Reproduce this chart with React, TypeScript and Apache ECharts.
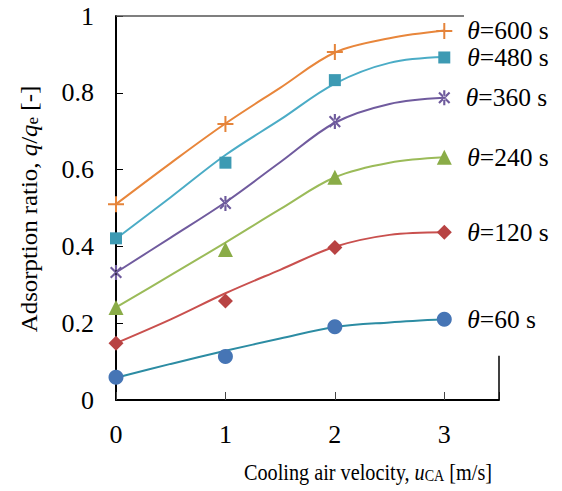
import React, { useEffect, useRef } from 'react';
import * as echarts from 'echarts';

// ---- data ----
const xValues = [0, 1, 2, 3];
const thetaSeconds = [600, 480, 360, 240, 120, 60];

// measured points (markers)
const measured600 = [0.51, 0.719, 0.906, 0.961];
const measured480 = [0.421, 0.618, 0.833, 0.892];
const measured360 = [0.332, 0.512, 0.725, 0.787];
const measured240 = [0.241, 0.392, 0.58, 0.632];
const measured120 = [0.148, 0.258, 0.397, 0.437];
const measured60 = [0.059, 0.113, 0.191, 0.21];

// fitted curves at these velocities
const fitX = [0, 0.5, 1, 1.5, 2, 2.5, 3];
const fit600 = [0.51, 0.617, 0.72, 0.813, 0.905, 0.942, 0.962];
const fit480 = [0.42, 0.528, 0.638, 0.73, 0.824, 0.878, 0.893];
const fit360 = [0.332, 0.423, 0.515, 0.619, 0.722, 0.771, 0.787];
const fit240 = [0.241, 0.325, 0.41, 0.497, 0.58, 0.618, 0.632];
const fit120 = [0.148, 0.21, 0.278, 0.339, 0.399, 0.43, 0.437];
const fit60 = [0.058, 0.094, 0.128, 0.16, 0.19, 0.202, 0.21];

const xTitle = 'Cooling air velocity, ';
const yTitle = 'Adsorption ratio, ';

const FONT = 'Liberation Serif';

const plusPath = 'path://M-1,-8L1,-8L1,-1L8,-1L8,1L1,1L1,8L-1,8L-1,1L-8,1L-8,-1L-1,-1Z';
const starPath =
  'path://M-1,-7L1,-7L1,7L-1,7Z' +
  'M4.243,5.657L5.657,4.243L-4.243,-5.657L-5.657,-4.243Z' +
  'M5.657,-4.243L4.243,-5.657L-5.657,4.243L-4.243,5.657Z';

const seriesDefs = [
  { measured: measured600, fit: fit600, line: '#E8863B', marker: '#E5843A', symbol: plusPath, size: 16 },
  { measured: measured480, fit: fit480, line: '#4BACC6', marker: '#3D9AB3', symbol: 'rect', size: 12 },
  { measured: measured360, fit: fit360, line: '#705B9E', marker: '#6E5A9C', symbol: starPath, size: 15 },
  { measured: measured240, fit: fit240, line: '#9BBB59', marker: '#8AAC47', symbol: 'triangle', size: 15 },
  { measured: measured120, fit: fit120, line: '#C9504E', marker: '#B84343', symbol: 'diamond', size: 15 },
  { measured: measured60, fit: fit60, line: '#2C8CA3', marker: '#4675B5', symbol: 'circle', size: 15 },
];

export default function App() {
  const ref = useRef<HTMLDivElement>(null);

  useEffect(() => {
    if (!ref.current) return;
    const chart = echarts.init(ref.current, null, { renderer: 'svg' });

    const series: any[] = [];
    seriesDefs.forEach((d, k) => {
      series.push({
        type: 'line',
        name: 'fit' + thetaSeconds[k],
        data: fitX.map((x, i) => [x, d.fit[i]]),
        smooth: 0.35,
        showSymbol: false,
        lineStyle: { color: d.line, width: 2 },
        itemStyle: { color: d.line },
        z: 2,
      });
    });
    seriesDefs.forEach((d, k) => {
      const last = xValues.length - 1;
      series.push({
        type: 'scatter',
        name: 'theta' + thetaSeconds[k],
        symbol: d.symbol,
        symbolSize: d.size,
        symbolKeepAspect: true,
        itemStyle: { color: d.marker, opacity: 1 },
        z: 3,
        data: xValues.map((x, i) =>
          i === last
            ? {
                value: [x, d.measured[i]],
                label: {
                  show: true,
                  position: 'right',
                  distance: 23 - d.size / 2,
                  fontFamily: FONT,
                  formatter: `{i|θ}{n|=${thetaSeconds[k]} s}`,
                  rich: {
                    i: { fontFamily: FONT, fontSize: 25.5, fontStyle: 'italic', color: '#000' },
                    n: { fontFamily: FONT, fontSize: 25.5, color: '#000' },
                  },
                },
              }
            : [x, d.measured[i]]
        ),
      });
    });

    chart.setOption({
      animation: false,
      backgroundColor: '#fff',
      textStyle: { fontFamily: FONT },
      grid: { left: 116, right: 63, top: 16, bottom: 91, containLabel: false },
      xAxis: {
        type: 'value',
        min: 0,
        max: 3.5,
        interval: 1,
        axisLine: { show: true, lineStyle: { color: '#000', width: 2 } },
        axisTick: { show: true, inside: true, length: 8, lineStyle: { color: '#444', width: 1 } },
        axisLabel: {
          fontFamily: FONT,
          fontSize: 26,
          color: '#000',
          margin: 21,
          formatter: (v: number) => (Number.isInteger(v) ? String(v) : ''),
        },
        splitLine: { show: false },
      },
      yAxis: {
        type: 'value',
        min: 0,
        max: 1,
        interval: 0.2,
        axisLine: { show: true, lineStyle: { color: '#000', width: 2 } },
        axisTick: { show: true, inside: true, length: 7, lineStyle: { color: '#000', width: 1 } },
        axisLabel: { fontFamily: FONT, fontSize: 26, color: '#000', margin: 22 },
        splitLine: { show: false },
      },
      series,
    });

    const p = (x: number, y: number) => chart.convertToPixel({ gridIndex: 0 }, [x, y]) as number[];
    const tl = p(0, 1);
    const tr = p(3.18, 1);
    const rb = p(3.5, 0);
    const rt = p(3.5, 0.115);

    const titleRich = {
      n: { fontFamily: FONT, fontSize: 23, color: '#000', verticalAlign: 'bottom', lineHeight: 24 },
      i: { fontFamily: FONT, fontSize: 23, fontStyle: 'italic', color: '#000', verticalAlign: 'bottom', lineHeight: 24 },
      s: { fontFamily: FONT, fontSize: 16, color: '#000', verticalAlign: 'bottom', lineHeight: 14 },
    };

    chart.setOption({
      graphic: [
        {
          type: 'line',
          shape: { x1: tl[0], y1: tl[1], x2: tr[0], y2: tr[1] },
          style: { stroke: '#555', lineWidth: 1.5 },
          z: 1,
        },
        {
          type: 'line',
          shape: { x1: rb[0], y1: rb[1], x2: rt[0], y2: rt[1] },
          style: { stroke: '#000', lineWidth: 1.5 },
          z: 1,
        },
        {
          type: 'text',
          x: 368,
          y: 472,
          scaleX: 0.88,
          style: {
            text: `{n|${xTitle}}{i|u}{s|CA}{n| [m/s]}`,
            fontFamily: FONT,
            align: 'center',
            verticalAlign: 'middle',
            rich: titleRich,
          },
        },
        {
          type: 'text',
          x: 29,
          y: 209,
          rotation: Math.PI / 2,
          scaleX: 1.08,
          style: {
            text: `{n|${yTitle}}{i|q}{n|/}{i|q}{s|e}{n| [-]}`,
            fontFamily: FONT,
            align: 'center',
            verticalAlign: 'middle',
            rich: titleRich,
          },
        },
      ],
    });

    return () => chart.dispose();
  }, []);

  return (
    <div
      ref={ref}
      style={{ position: 'fixed', left: 0, top: 0, width: 562, height: 491, background: '#fff' }}
    />
  );
}
